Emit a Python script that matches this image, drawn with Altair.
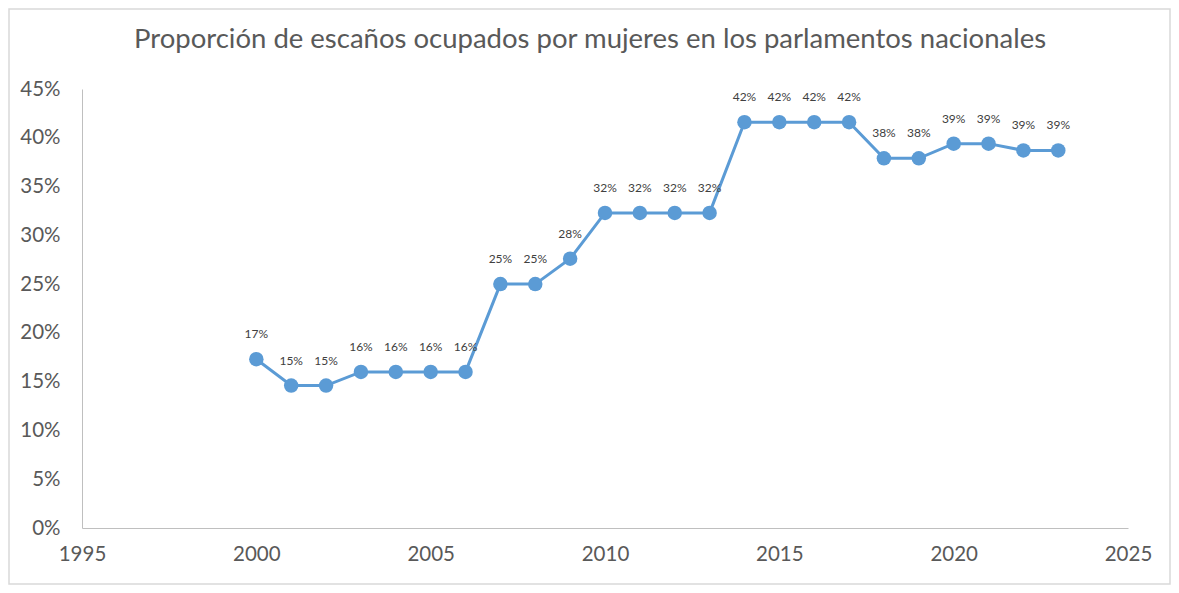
import altair as alt
import pandas as pd

years = list(range(2000, 2024))
shares = [17.3, 14.6, 14.6, 16.0, 16.0, 16.0, 16.0, 25.0, 25.0, 27.6,
          32.3, 32.3, 32.3, 32.3, 41.6, 41.6, 41.6, 41.6, 37.9, 37.9,
          39.4, 39.4, 38.7, 38.7]
x_ticks = [1995, 2000, 2005, 2010, 2015, 2020, 2025]
y_ticks = [0, 0.05, 0.10, 0.15, 0.20, 0.25, 0.30, 0.35, 0.40, 0.45]
title_text = "Proporción de escaños ocupados por mujeres en los parlamentos nacionales"

df = pd.DataFrame({"year": years, "share": [s / 100 for s in shares]})

BLUE = "#5B9BD5"
FONT = "Lato"

x = alt.X("year:Q", scale=alt.Scale(domain=[1995, 2025], nice=False, zero=False),
          axis=alt.Axis(values=x_ticks, format="d", title=None, grid=False, ticks=False,
                        domainColor="#BFBFBF", labelFontSize=20.5, labelColor="#595959",
                        labelFont=FONT, labelPadding=16, labelFlush=False))
y = alt.Y("share:Q", scale=alt.Scale(domain=[0, 0.45], nice=False),
          axis=alt.Axis(values=y_ticks, format=".0%", title=None, grid=False, ticks=False,
                        domainColor="#BFBFBF", labelFontSize=20.5, labelColor="#595959",
                        labelFont=FONT, labelPadding=22))

base = alt.Chart(df)
line = base.mark_line(color=BLUE, strokeWidth=3).encode(x=x, y=y)
pts = base.mark_circle(color=BLUE, size=210, opacity=1).encode(x=x, y=y)
labels = base.mark_text(dy=-25, fontSize=12, color="#404040", font=FONT,
                        baseline="middle").encode(
    x=x, y=y, text=alt.Text("share:Q", format=".0%"))

deco = alt.Chart(pd.DataFrame({"t": [title_text]}))
border = deco.mark_rect(
    fill="white", fillOpacity=0, stroke="#D9D9D9", strokeWidth=1.5, clip=False).encode(
    x=alt.value(-73), x2=alt.value(1088), y=alt.value(-80), y2=alt.value(495))
title = deco.mark_text(fontSize=27.5, font=FONT, color="#595959", align="center",
                       baseline="middle", clip=False).encode(
    x=alt.value(508), y=alt.value(-49), text="t:N")

chart = alt.layer(border, line, pts, labels, title).properties(
    width=1046, height=439,
    autosize=alt.AutoSizeParams(type="none"),
    padding={"left": 74, "top": 81, "right": 43, "bottom": 57},
).configure_view(stroke=None)

chart.save("out.html", embed_options={"renderer": "svg", "actions": False})
